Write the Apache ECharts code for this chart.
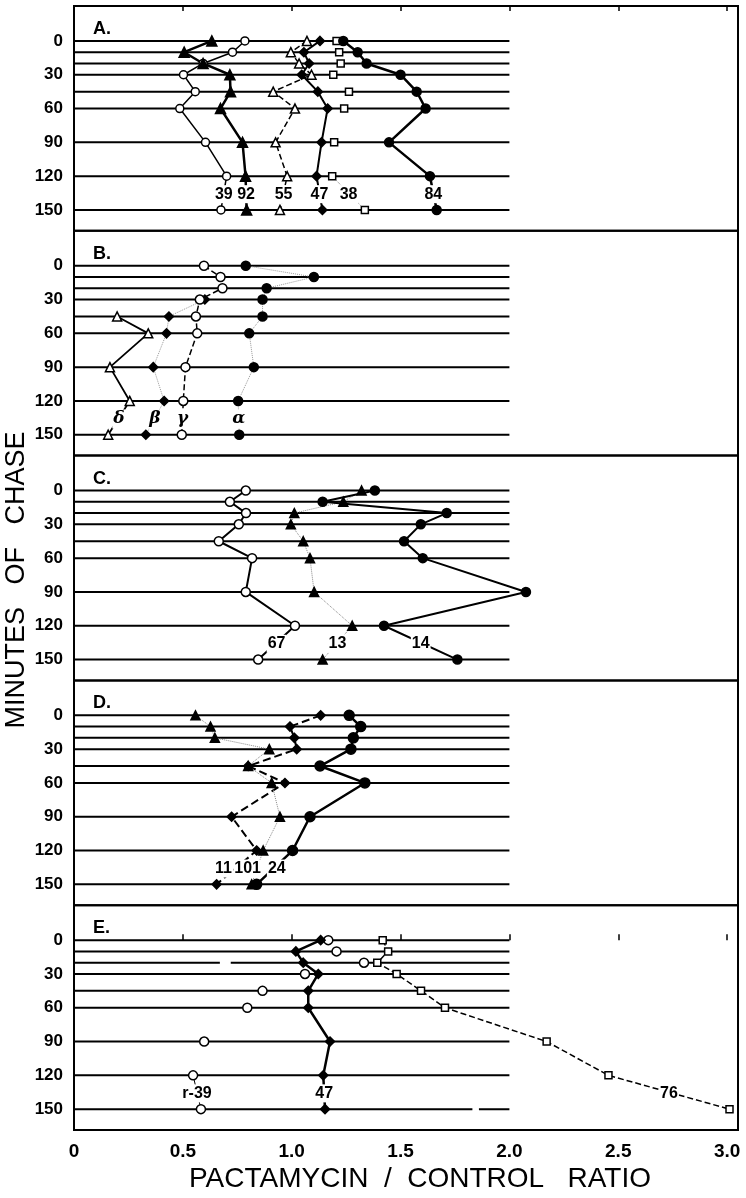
<!DOCTYPE html>
<html>
<head>
<meta charset="utf-8">
<script src="https://cdn.jsdelivr.net/npm/echarts@6/dist/echarts.min.js"></script>
<style>
html, body { margin: 0; padding: 0; background: #fff; }
#chart { width: 746px; height: 1198px; }
</style>
</head>
<body>
<div id="chart"></div>
<script>
// minutes of chase at which each horizontal line is drawn
var levels = [0, 10, 20, 30, 45, 60, 90, 120, 150];
var yTicks = [0, 30, 60, 90, 120, 150];
var xTicks = [0, 0.5, 1.0, 1.5, 2.0, 2.5, 3.0];
var lineEnd = 2.0;
var labelLevel = 136;
var panelNames = ['A.', 'B.', 'C.', 'D.', 'E.'];
// breaks in the printed lines of panel E: [level, from, to]
var lineGapsE = [[20, 0.67, 0.72], [150, 1.83, 1.86]];

// panel A
var a39 = [0.785, 0.728, 0.593, 0.503, 0.557, 0.486, 0.604, 0.701, 0.675];
var a92 = [0.633, 0.506, 0.593, 0.716, 0.719, 0.673, 0.774, 0.788, 0.793];
var a55 = [1.070, 0.996, 1.034, 1.091, 0.915, 1.015, 0.926, 0.979, 0.946];
var a47 = [1.130, 1.056, 1.080, 1.046, 1.120, 1.165, 1.137, 1.114, 1.141];
var a38 = [1.206, 1.218, 1.225, 1.191, 1.263, 1.241, 1.195, 1.186, 1.336];
var a84 = [1.237, 1.303, 1.344, 1.500, 1.574, 1.615, 1.447, 1.635, 1.666];

// panel B
var bAlpha = [0.789, 1.102, 0.885, 0.866, 0.866, 0.805, 0.826, 0.754, 0.759];
var bBeta = [null, null, null, 0.601, 0.436, 0.425, 0.364, 0.414, 0.330];
var bGamma = [0.597, 0.673, 0.682, 0.578, 0.560, 0.566, 0.512, 0.502, 0.495];
var bDelta = [null, null, null, null, 0.198, 0.341, 0.165, 0.256, 0.157];

// panel C
var c67 = [0.789, 0.716, 0.790, 0.757, 0.665, 0.818, 0.789, 1.015, 0.846];
var c13 = [1.321, 1.237, 1.012, 0.996, 1.053, 1.084, 1.103, 1.278, 1.142];
var c14 = [1.382, 1.142, 1.712, 1.593, 1.516, 1.602, 2.076, 1.424, 1.761];

// panel D
var d11 = [1.133, 0.992, 1.012, 1.023, 0.800, 0.969, 0.724, 0.839, 0.655];
var d101 = [0.558, 0.627, 0.647, 0.897, 0.800, 0.908, 0.946, 0.869, 0.816];
var d24 = [1.264, 1.317, 1.283, 1.272, 1.130, 1.336, 1.084, 1.004, 0.839];

// panel E
var eR39 = [1.168, 1.206, 1.332, 1.061, 0.866, 0.796, 0.598, 0.547, 0.583];
var e47 = [1.133, 1.019, 1.053, 1.122, 1.076, 1.076, 1.176, 1.145, 1.153];
var e76 = [1.418, 1.443, 1.393, 1.482, 1.594, 1.704, 2.171, 2.455, 3.011];

var panels = [
    [
        {name: '39', data: a39, symbol: 'circle', open: true, size: 8, line: 'solid', width: 1.5},
        {name: '92', data: a92, symbol: 'triangle', open: false, size: 10, line: 'solid', width: 2.5},
        {name: '55', data: a55, symbol: 'triangle', open: true, size: 9, line: 'dashed', width: 1.5},
        {name: '47', data: a47, symbol: 'diamond', open: false, size: 9, line: 'solid', width: 2},
        {name: '38', data: a38, symbol: 'rect', open: true, size: 7, line: 'none', tail: 'dotted'},
        {name: '84', data: a84, symbol: 'circle', open: false, size: 9, line: 'solid', width: 2.5}
    ],
    [
        {name: 'α', data: bAlpha, symbol: 'circle', open: false, size: 9, line: 'dotted', width: 1, color: '#999'},
        {name: 'β', data: bBeta, symbol: 'diamond', open: false, size: 9, line: 'dotted', width: 1, color: '#999'},
        {name: 'γ', data: bGamma, symbol: 'circle', open: true, size: 9, line: 'dashed', width: 1.5},
        {name: 'δ', data: bDelta, symbol: 'triangle', open: true, size: 9, line: 'solid', width: 1.8}
    ],
    [
        {name: '67', data: c67, symbol: 'circle', open: true, size: 9, line: 'solid', width: 2},
        {name: '13', data: c13, symbol: 'triangle', open: false, size: 9, line: 'dotted', width: 1, color: '#888'},
        {name: '14', data: c14, symbol: 'circle', open: false, size: 9, line: 'solid', width: 2}
    ],
    [
        {name: '11', data: d11, symbol: 'diamond', open: false, size: 9, line: 'dashed', width: 2, dx: -0.06},
        {name: '101', data: d101, symbol: 'triangle', open: false, size: 9, line: 'dotted', width: 1, color: '#888', dx: -0.045},
        {name: '24', data: d24, symbol: 'circle', open: false, size: 10, line: 'solid', width: 2.5, dx: 0.01}
    ],
    [
        {name: 'r-39', data: eR39, symbol: 'circle', open: true, size: 9, line: 'none', tail: 'solid'},
        {name: '47', data: e47, symbol: 'diamond', open: false, size: 9, line: 'solid', width: 2.5},
        {name: '76', data: e76, symbol: 'rect', open: true, size: 7, line: 'dashed', width: 1.5}
    ]
];

var gridTop = 6, gridH = 224.8;
var fontMain = 'Liberation Sans, Arial, sans-serif';

var grids = [], xAxes = [], yAxes = [], titles = [], series = [];

panels.forEach(function (list, p) {
    var top = gridTop + p * gridH;
    grids.push({left: 74, right: 8, top: top, height: gridH, show: true,
        borderColor: '#000', borderWidth: 2, backgroundColor: 'transparent'});
    var last = p === panels.length - 1;
    xAxes.push({
        gridIndex: p, type: 'value', min: 0, max: 3.05, position: 'bottom',
        show: last,
        axisLine: {show: false},
        splitLine: {show: false},
        axisTick: {show: true, inside: true, length: 6, customValues: xTicks,
            lineStyle: {color: '#000', width: 1.5}},
        axisLabel: {customValues: xTicks, color: '#000', fontSize: 19, margin: 12,
            fontFamily: fontMain, fontWeight: 'bold',
            formatter: function (v) { return v === 0 ? '0' : v.toFixed(1); }}
    });
    yAxes.push({
        gridIndex: p, type: 'value', inverse: true, min: -31, max: 168.5,
        axisLine: {show: false},
        axisTick: {show: false},
        splitLine: {show: false},
        axisLabel: {customValues: yTicks, color: '#000', fontSize: 17, fontWeight: 'bold',
            fontFamily: fontMain, margin: 11}
    });
    titles.push({text: panelNames[p], left: 88, top: top + 9,
        textStyle: {fontSize: 18, fontWeight: 'bold', color: '#000', fontFamily: fontMain}});

    // horizontal lines
    var gaps = last ? lineGapsE : [];
    var hl = [];
    levels.forEach(function (lv) {
        var segs = [[0, lineEnd]];
        gaps.forEach(function (g) {
            if (g[0] !== lv) return;
            var next = [];
            segs.forEach(function (s) {
                if (g[1] > s[0] && g[2] < s[1]) {
                    next.push([s[0], g[1]], [g[2], s[1]]);
                } else {
                    next.push(s);
                }
            });
            segs = next;
        });
        segs.forEach(function (s) {
            hl.push([s[0], lv], [s[1], lv], [NaN, NaN]);
        });
    });
    series.push({type: 'line', xAxisIndex: p, yAxisIndex: p, data: hl, symbol: 'none',
        silent: true, animation: false, lineStyle: {color: '#000', width: 2}, z: 1});

    list.forEach(function (s) {
        var pts = [];
        s.data.forEach(function (v, i) {
            if (v !== null) pts.push([v, levels[i]]);
        });
        var hidden = s.line === 'none';
        series.push({
            type: 'line', xAxisIndex: p, yAxisIndex: p, data: pts,
            symbol: s.symbol, symbolSize: s.size, animation: false,
            itemStyle: {color: s.open ? '#fff' : '#000', borderColor: '#000', borderWidth: 1.5},
            lineStyle: {type: hidden ? 'solid' : s.line, width: hidden ? 1 : s.width,
                color: s.color || '#000', opacity: hidden ? 0 : 1},
            z: 4
        });
        if (s.tail) {
            var n = pts.length;
            series.push({
                type: 'line', xAxisIndex: p, yAxisIndex: p, data: [pts[n - 2], pts[n - 1]],
                symbol: 'none', animation: false, silent: true,
                lineStyle: {type: s.tail, width: 1, color: s.tail === 'dotted' ? '#888' : '#000'},
                z: 3
            });
        }
    });

    // series labels between the 120 and 150 points
    var greek = p === 1;
    series.push({
        type: 'scatter', xAxisIndex: p, yAxisIndex: p, symbolSize: 1, animation: false,
        itemStyle: {color: '#fff'}, silent: true, z: 6,
        data: list.map(function (s) {
            var n = s.data.length;
            return [(s.data[n - 2] + s.data[n - 1]) / 2 + (s.dx || 0), labelLevel, s.name];
        }),
        label: {show: true, position: 'inside', color: '#000', opacity: 1,
            backgroundColor: '#fff', textBorderWidth: 0,
            padding: [1, 1], fontSize: greek ? 17 : 16, fontWeight: 'bold',
            fontStyle: greek ? 'italic' : 'normal',
            fontFamily: greek ? 'DejaVu Serif, serif' : fontMain,
            formatter: function (d) { return d.data[2]; }}
    });
});

// tick marks along the top of panel A
xAxes.push({
    gridIndex: 0, type: 'value', min: 0, max: 3.05, position: 'top',
    axisLine: {show: false}, splitLine: {show: false},
    axisTick: {show: true, inside: true, length: 5, customValues: xTicks.slice(1),
        lineStyle: {color: '#000', width: 1.5}},
    axisLabel: {show: false}
});

var chart = echarts.init(document.getElementById('chart'));
chart.setOption({
    backgroundColor: '#fff',
    animation: false,
    title: titles,
    grid: grids,
    xAxis: xAxes,
    yAxis: yAxes,
    series: series,
    graphic: [
        {type: 'text', x: 17, y: 580, rotation: Math.PI / 2,
            style: {text: 'MINUTES   OF   CHASE', fill: '#000', fontSize: 27,
                fontFamily: fontMain, align: 'center', verticalAlign: 'middle'}},
        {type: 'text', x: 420, y: 1179,
            style: {text: 'PACTAMYCIN  /  CONTROL   RATIO', fill: '#000', fontSize: 28,
                fontFamily: fontMain, align: 'center', verticalAlign: 'middle'}}
    ]
});
</script>
</body>
</html>
